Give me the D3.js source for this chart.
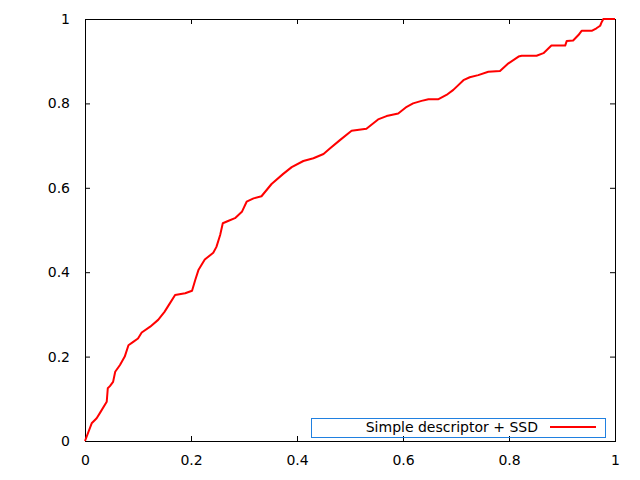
<!DOCTYPE html>
<html>
<head>
<meta charset="utf-8">
<script src="https://cdn.jsdelivr.net/npm/d3@7"></script>
<style>
  html, body { margin: 0; padding: 0; background: #fff; }
  svg { display: block; }
  text { font-family: "DejaVu Sans", sans-serif; font-size: 14px; fill: #000; }
</style>
</head>
<body>
<svg id="chart" width="640" height="480"></svg>
<script>
// Data
const seriesName = "Simple descriptor + SSD";
const xValues = [0, 0.0126, 0.022, 0.028, 0.041, 0.043, 0.047, 0.053, 0.057, 0.066, 0.075, 0.082, 0.091, 0.100, 0.107, 0.123, 0.138, 0.150, 0.158, 0.170, 0.189, 0.202, 0.208, 0.214, 0.226, 0.242, 0.248, 0.255, 0.260, 0.271, 0.283, 0.296, 0.305, 0.318, 0.333, 0.352, 0.374, 0.390, 0.412, 0.431, 0.450, 0.462, 0.481, 0.503, 0.531, 0.553, 0.569, 0.591, 0.607, 0.619, 0.635, 0.648, 0.667, 0.682, 0.695, 0.714, 0.726, 0.742, 0.761, 0.783, 0.799, 0.818, 0.824, 0.852, 0.865, 0.880, 0.906, 0.909, 0.921, 0.931, 0.937, 0.956, 0.965, 0.972, 0.975, 0.978, 1.0];
const yValues = [0, 0.042, 0.054, 0.066, 0.093, 0.125, 0.130, 0.140, 0.164, 0.180, 0.200, 0.227, 0.235, 0.243, 0.257, 0.271, 0.287, 0.306, 0.322, 0.346, 0.350, 0.356, 0.3815, 0.405, 0.430, 0.446, 0.460, 0.488, 0.516, 0.522, 0.528, 0.543, 0.567, 0.575, 0.580, 0.609, 0.633, 0.649, 0.6635, 0.670, 0.680, 0.693, 0.713, 0.735, 0.740, 0.762, 0.770, 0.776, 0.792, 0.800, 0.806, 0.810, 0.810, 0.820, 0.832, 0.855, 0.862, 0.867, 0.875, 0.877, 0.895, 0.911, 0.913, 0.913, 0.919, 0.937, 0.937, 0.948, 0.949, 0.962, 0.972, 0.972, 0.978, 0.984, 0.993, 1.0, 1.0];
const xTicks = [0, 0.2, 0.4, 0.6, 0.8, 1];
const yTicks = [0, 0.2, 0.4, 0.6, 0.8, 1];

const points = xValues.map((x, i) => ({x: x, y: yValues[i]}));

const svg = d3.select("#chart");
const mLeft = 85, mRight = 615, mTop = 19, mBottom = 441;

const x = d3.scaleLinear().domain([0, 1]).range([mLeft, mRight]);
const y = d3.scaleLinear().domain([0, 1]).range([mBottom, mTop]);

const fmt = d => d === 0 ? "0" : d === 1 ? "1" : d3.format(".1f")(d);

function styleAxis(g) {
  g.select(".domain").remove();
  g.selectAll(".tick line").attr("stroke", "#000").attr("stroke-width", 1);
  g.selectAll("text").style("font-family", "DejaVu Sans, sans-serif").style("font-size", "14px").attr("fill", "#000");
}

// bottom axis
svg.append("g").attr("transform", `translate(0,${mBottom})`)
  .call(d3.axisBottom(x).tickValues(xTicks).tickFormat(fmt).tickSizeInner(-5).tickSizeOuter(0).tickPadding(14))
  .call(styleAxis);
// top mirror ticks
svg.append("g").attr("transform", `translate(0,${mTop})`)
  .call(d3.axisTop(x).tickValues(xTicks).tickFormat("").tickSizeInner(-5).tickSizeOuter(0))
  .call(styleAxis);
// left axis
svg.append("g").attr("transform", `translate(${mLeft},0)`)
  .call(d3.axisLeft(y).tickValues(yTicks).tickFormat(fmt).tickSizeInner(-5).tickSizeOuter(0).tickPadding(15))
  .call(styleAxis);
// right mirror ticks
svg.append("g").attr("transform", `translate(${mRight},0)`)
  .call(d3.axisRight(y).tickValues(yTicks).tickFormat("").tickSizeInner(-5).tickSizeOuter(0))
  .call(styleAxis);

// border
svg.append("rect")
  .attr("x", mLeft + 0.5).attr("y", mTop + 0.5)
  .attr("width", mRight - mLeft).attr("height", mBottom - mTop)
  .attr("fill", "none").attr("stroke", "#000").attr("stroke-width", 1);

// curve
const line = d3.line().x(d => x(d.x)).y(d => y(d.y));
svg.append("path")
  .datum(points)
  .attr("d", line)
  .attr("fill", "none")
  .attr("stroke", "#ff0000")
  .attr("stroke-width", 2)
  .attr("stroke-linejoin", "round");

// legend
const lg = svg.append("g");
lg.append("rect")
  .attr("x", 311.5).attr("y", 418.5).attr("width", 294).attr("height", 19)
  .attr("fill", "none").attr("stroke", "#2080e0").attr("stroke-width", 1);
lg.append("text")
  .attr("x", 538).attr("y", 432)
  .attr("text-anchor", "end")
  .text(seriesName);
lg.append("line")
  .attr("x1", 550).attr("x2", 596).attr("y1", 427).attr("y2", 427)
  .attr("stroke", "#ff0000").attr("stroke-width", 2);
</script>
</body>
</html>
